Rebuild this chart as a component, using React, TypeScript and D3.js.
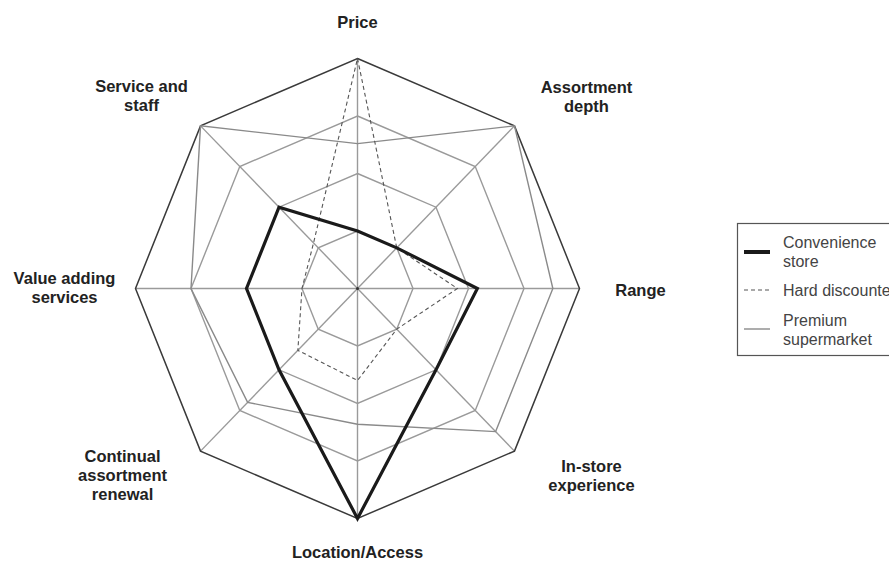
import React from 'react';
import * as d3 from 'd3';

// ---- data ----
const axisNames = [
  'Price',
  'Assortment depth',
  'Range',
  'In-store experience',
  'Location/Access',
  'Continual assortment renewal',
  'Value adding services',
  'Service and staff',
];
const axisLabelLines = [
  ['Price'],
  ['Assortment', 'depth'],
  ['Range'],
  ['In-store', 'experience'],
  ['Location/Access'],
  ['Continual', 'assortment', 'renewal'],
  ['Value adding', 'services'],
  ['Service and', 'staff'],
];
const convenienceStore = [0.25, 0.25, 0.54, 0.5, 1.0, 0.5, 0.5, 0.5];
const hardDiscounter = [1.0, 0.25, 0.45, 0.25, 0.4, 0.38, 0.25, 0.28];
const premiumSupermarket = [0.63, 1.0, 0.88, 0.88, 0.59, 0.7, 0.75, 1.0];
const gridLevels = [0.25, 0.5, 0.75];
const legendLabels = [['Convenience', 'store'], ['Hard discounter'], ['Premium', 'supermarket']];

// ---- layout ----
const W = 889;
const H = 564;
const cx = 357.5;
const cy = 288.5;
const rx = 222;
const ry = 230;
// label block centre offsets from each axis end
const labelOffsets: [number, number][] = [
  [0, -37],
  [72, -29],
  [61, 1],
  [77, 24],
  [0, 33],
  [-78, 24],
  [-71, -1],
  [-59, -30],
];

export default function App() {
  const n = axisNames.length;
  const angle = d3.scaleLinear().domain([0, n]).range([0, 2 * Math.PI]);
  const rX = d3.scaleLinear().domain([0, 1]).range([0, rx]);
  const rY = d3.scaleLinear().domain([0, 1]).range([0, ry]);
  const pt = (i: number, v: number): [number, number] => [
    cx + rX(v) * Math.sin(angle(i)),
    cy - rY(v) * Math.cos(angle(i)),
  ];
  const line = d3.line<[number, number]>().curve(d3.curveLinearClosed);
  const poly = (vals: number[]) => line(vals.map((v, i) => pt(i, v))) as string;
  const ring = (lvl: number) => poly(d3.range(n).map(() => lvl));

  const labelFont = '"Liberation Sans", Arial, sans-serif';
  const lh = 19;

  return (
    <>
      <style>{'body{margin:0}'}</style>
      <svg width={W} height={H} style={{ display: 'block', background: '#fff' }}>
        {/* grid rings */}
        {gridLevels.map((g) => (
          <path key={g} d={ring(g)} fill="none" stroke="#9a9a9a" strokeWidth={1.4} />
        ))}
        {/* axes */}
        {d3.range(n).map((i) => {
          const [x, y] = pt(i, 1);
          return <line key={i} x1={cx} y1={cy} x2={x} y2={y} stroke="#9a9a9a" strokeWidth={1.4} />;
        })}
        {/* outer ring */}
        <path d={ring(1)} fill="none" stroke="#3a3a3a" strokeWidth={1.5} />
        {/* premium supermarket */}
        <path d={poly(premiumSupermarket)} fill="none" stroke="#8a8a8a" strokeWidth={1.4} />
        {/* hard discounter */}
        <path d={poly(hardDiscounter)} fill="none" stroke="#555" strokeWidth={1.1} strokeDasharray="4,3" />
        {/* convenience store */}
        <path d={poly(convenienceStore)} fill="none" stroke="#1a1a1a" strokeWidth={3.2} strokeLinejoin="miter" />
        <circle cx={cx} cy={cy} r={1.5} fill="#333" />

        {/* axis labels */}
        {axisLabelLines.map((lines, i) => {
          const [x, y] = pt(i, 1);
          const lx = x + labelOffsets[i][0];
          const ly = y + labelOffsets[i][1];
          const top = ly - ((lines.length - 1) * lh) / 2;
          return (
            <text
              key={i}
              textAnchor="middle"
              fontFamily={labelFont}
              fontWeight="bold"
              fontSize={16.5}
              fill="#222"
            >
              {lines.map((t, k) => (
                <tspan key={k} x={lx} y={top + k * lh} dominantBaseline="central">
                  {t}
                </tspan>
              ))}
            </text>
          );
        })}

        {/* legend */}
        <g fontFamily={labelFont} fontSize={16} fill="#444">
          <rect x={737.5} y={223.5} width={200} height={132} fill="#fff" stroke="#555" strokeWidth={1.2} />
          <line x1={744} x2={770} y1={252} y2={252} stroke="#1a1a1a" strokeWidth={4} />
          <line x1={744} x2={770} y1={290} y2={290} stroke="#555" strokeWidth={1.1} strokeDasharray="4,3" />
          <line x1={744} x2={770} y1={329} y2={329} stroke="#8a8a8a" strokeWidth={1.4} />
          {legendLabels.map((lines, i) => {
            const base = [242, 290, 320][i];
            return (
              <text key={i}>
                {lines.map((t, k) => (
                  <tspan key={k} x={783} y={base + k * 19} dominantBaseline="central">
                    {t}
                  </tspan>
                ))}
              </text>
            );
          })}
        </g>
      </svg>
    </>
  );
}
